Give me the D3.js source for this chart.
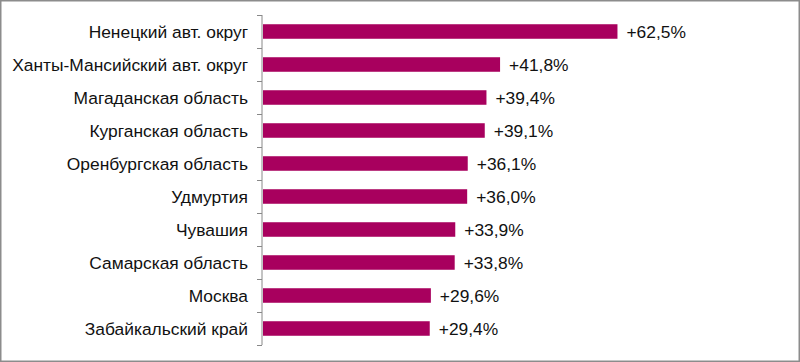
<!DOCTYPE html>
<html>
<head>
<meta charset="utf-8">
<script src="https://cdn.jsdelivr.net/npm/d3@7"></script>
<style>
  html, body { margin: 0; padding: 0; background: #fff; }
  svg { display: block; }
  text { font-family: "Liberation Sans", Arial, sans-serif; fill: #111; }
</style>
</head>
<body>
<div id="chart"></div>
<script>
// данные
const regions = [
    'Ненецкий авт. округ',
    'Ханты-Мансийский авт. округ',
    'Магаданская область',
    'Курганская область',
    'Оренбургская область',
    'Удмуртия',
    'Чувашия',
    'Самарская область',
    'Москва',
    'Забайкальский край'
];
const growth = [62.5, 41.8, 39.4, 39.1, 36.1, 36.0, 33.9, 33.8, 29.6, 29.4];
const growthLabels = ['+62,5%', '+41,8%', '+39,4%', '+39,1%', '+36,1%', '+36,0%', '+33,9%', '+33,8%', '+29,6%', '+29,4%'];

const W = 800, H = 362;
const svg = d3.select('#chart').append('svg')
    .attr('width', W)
    .attr('height', H);

// рамка
svg.append('rect')
    .attr('x', 0.75).attr('y', 0.75)
    .attr('width', W - 1.5).attr('height', H - 1.5)
    .attr('fill', 'none')
    .attr('stroke', '#8c8c8c')
    .attr('stroke-width', 1.5);

const x0 = 262;
const x = d3.scaleLinear().domain([0, 70]).range([x0, x0 + 397]);
const y = d3.scaleBand().domain(regions).range([15, 345]).paddingInner(0.56).paddingOuter(0.28);
const band = d3.scaleBand().domain(regions).range([15, 345]);

// ось
const axis = svg.append('g')
    .attr('transform', `translate(${x0},0)`)
    .call(d3.axisLeft(band).tickSize(0).tickFormat(''));
axis.select('.domain').attr('stroke', '#888').attr('d', 'M0,15V345');
// засечки по границам категорий
const edges = regions.map(r => band(r)).concat([345]);
axis.selectAll('.edge').data(edges).enter().append('line')
    .attr('class', 'edge')
    .attr('x1', -5).attr('x2', 0)
    .attr('y1', d => d + 0.5).attr('y2', d => d + 0.5)
    .attr('stroke', '#888');

// подписи категорий
svg.selectAll('.cat').data(regions).enter().append('text')
    .attr('class', 'cat')
    .attr('x', 248)
    .attr('y', d => band(d) + band.bandwidth() / 2)
    .attr('dy', '0.35em')
    .attr('text-anchor', 'end')
    .style('font-size', '17.4px')
    .text(d => d);

// столбцы
svg.selectAll('.bar').data(regions).enter().append('rect')
    .attr('class', 'bar')
    .attr('x', x0 + 1)
    .attr('y', d => y(d))
    .attr('width', (d, i) => x(growth[i]) - x0)
    .attr('height', y.bandwidth())
    .attr('fill', '#a8005e');

// значения
svg.selectAll('.val').data(regions).enter().append('text')
    .attr('class', 'val')
    .attr('x', (d, i) => x(growth[i]) + 10)
    .attr('y', d => band(d) + band.bandwidth() / 2)
    .attr('dy', '0.35em')
    .style('font-size', '17.4px')
    .text((d, i) => growthLabels[i]);
</script>
</body>
</html>
